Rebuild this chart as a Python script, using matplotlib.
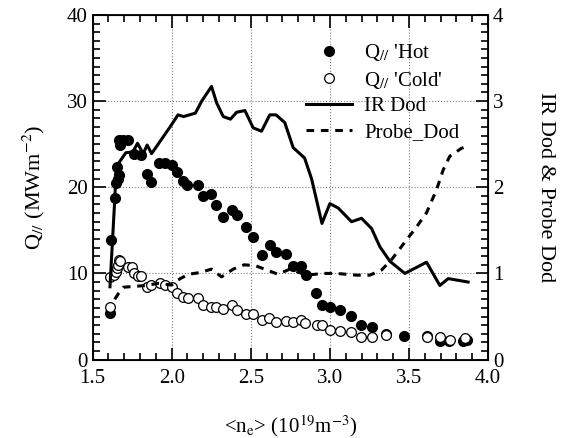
import numpy
import matplotlib
matplotlib.use("Agg")
import matplotlib.pyplot as plt
from matplotlib.ticker import MultipleLocator, FormatStrFormatter

plt.rcParams['font.family'] = ['Liberation Serif', 'DejaVu Serif']
plt.rcParams['mathtext.fontset'] = 'stix'

# Q// 'Hot' (filled circles), left axis
hot_ne = [1.610, 1.614, 1.641, 1.647, 1.655, 1.662, 1.668, 1.664, 1.675, 1.694,
          1.727, 1.759, 1.807, 1.843, 1.868, 1.919, 1.957, 1.999, 2.031, 2.073,
          2.098, 2.164, 2.200, 2.250, 2.280, 2.326, 2.379, 2.415, 2.473, 2.515,
          2.568, 2.620, 2.658, 2.724, 2.768, 2.815, 2.848, 2.911, 2.948, 3.000,
          3.063, 3.131, 3.194, 3.264, 3.354, 3.470, 3.611, 3.695, 3.754, 3.843,
          3.864]
hot_q = [5.4, 13.9, 18.7, 20.5, 22.4, 21.0, 21.4, 25.5, 24.9, 25.5,
         25.5, 23.9, 23.75, 21.5, 20.6, 22.8, 22.8, 22.6, 21.8, 20.7,
         20.3, 20.3, 19.0, 19.2, 17.9, 16.5, 17.4, 16.8, 15.4, 14.2,
         12.1, 13.3, 12.5, 12.3, 10.9, 10.9, 9.8, 7.7, 6.3, 6.1,
         5.75, 5.05, 4.0, 3.8, 3.0, 2.76, 2.76, 2.2, 2.2, 2.2,
         2.3]

# Q// 'Cold' (open circles), left axis
cold_ne = [1.611, 1.611, 1.633, 1.647, 1.654, 1.660, 1.668, 1.675, 1.723, 1.748,
           1.759, 1.786, 1.807, 1.843, 1.870, 1.927, 1.959, 2.001, 2.033, 2.069,
           2.102, 2.164, 2.200, 2.248, 2.278, 2.326, 2.379, 2.416, 2.469, 2.515,
           2.568, 2.615, 2.657, 2.720, 2.766, 2.816, 2.842, 2.916, 2.948, 3.000,
           3.063, 3.131, 3.194, 3.264, 3.354, 3.611, 3.695, 3.758, 3.854]
cold_q = [6.1, 9.6, 9.8, 10.2, 10.6, 11.0, 11.5, 11.4, 10.7, 10.7,
          10.1, 9.7, 9.7, 8.45, 8.7, 8.85, 8.65, 8.45, 7.7, 7.3,
          7.1, 7.2, 6.3, 6.1, 6.1, 5.9, 6.3, 5.8, 5.3, 5.3,
          4.6, 4.8, 4.4, 4.5, 4.4, 4.6, 4.2, 4.0, 4.0, 3.4,
          3.35, 3.2, 2.6, 2.6, 2.85, 2.65, 2.65, 2.3, 2.45]

# IR Dod (solid), right axis
ir_ne = [1.610, 1.640, 1.650, 1.710, 1.755, 1.784, 1.820, 1.845, 1.873, 1.990,
         2.040, 2.075, 2.150, 2.190, 2.252, 2.284, 2.326, 2.372, 2.410, 2.463,
         2.515, 2.568, 2.620, 2.660, 2.715, 2.768, 2.840, 2.884, 2.916, 2.950,
         3.000, 3.052, 3.137, 3.200, 3.264, 3.316, 3.380, 3.474, 3.611, 3.695,
         3.748, 3.874]
ir_dod = [0.845, 1.85, 2.24, 2.40, 2.41, 2.51, 2.39, 2.49, 2.39, 2.70,
          2.84, 2.82, 2.86, 3.00, 3.17, 2.98, 2.82, 2.79, 2.87, 2.89,
          2.69, 2.65, 2.84, 2.84, 2.75, 2.46, 2.34, 2.10, 1.85, 1.58,
          1.81, 1.76, 1.60, 1.64, 1.52, 1.31, 1.14, 1.00, 1.13, 0.86,
          0.94, 0.90]

# Probe_Dod (dashed), right axis
pr_ne = [1.640, 1.665, 1.695, 1.770, 1.833, 1.917, 2.000, 2.054, 2.107, 2.178,
         2.252, 2.315, 2.389, 2.458, 2.530, 2.600, 2.673, 2.747, 2.853, 2.958,
         3.040, 3.169, 3.253, 3.327, 3.390, 3.485, 3.548, 3.610, 3.674, 3.716,
         3.758, 3.830, 3.855]
pr_dod = [0.70, 0.77, 0.84, 0.85, 0.86, 0.885, 0.865, 0.94, 0.99, 1.01,
          1.05, 0.96, 1.05, 1.10, 1.09, 1.04, 0.99, 1.05, 0.98, 1.00,
          1.00, 0.98, 0.98, 1.04, 1.16, 1.39, 1.54, 1.70, 1.97, 2.20,
          2.36, 2.45, 2.47]

fig = plt.figure(figsize=(5.61, 4.38), dpi=100)
ax = fig.add_axes([0.165, 0.179, 0.705, 0.787])
ax2 = ax.twinx()

h1, = ax.plot(hot_ne, hot_q, 'o', ls='none', ms=7, mfc='black', mec='black', zorder=3)
h2, = ax.plot(cold_ne, cold_q, 'o', ls='none', ms=7, mfc='white', mec='black', mew=0.9, zorder=3)
h3, = ax2.plot(ir_ne, ir_dod, '-', color='black', lw=2.2)
h4, = ax2.plot(pr_ne, pr_dod, '--', color='black', lw=2.2, dashes=(2.5, 2.2))

# Axes limits and ticks
ax.set_xlim(1.5, 4.0)
ax.set_ylim(0, 40)
ax2.set_ylim(0, 4)
ax.xaxis.set_major_locator(MultipleLocator(0.5))
ax.xaxis.set_minor_locator(MultipleLocator(0.1))
ax.xaxis.set_major_formatter(FormatStrFormatter('%.1f'))
ax.yaxis.set_major_locator(MultipleLocator(10))
ax.yaxis.set_minor_locator(MultipleLocator(1))
ax2.yaxis.set_major_locator(MultipleLocator(1))
ax2.yaxis.set_minor_locator(MultipleLocator(0.1))

ax.tick_params(axis='both', which='both', direction='in', top=True, right=False,
               labelsize=15, width=1.2)
ax.tick_params(which='major', length=9)
ax.tick_params(which='minor', length=5)
ax.tick_params(axis='x', pad=7)
ax2.tick_params(axis='y', which='both', direction='in', labelsize=15, width=1.2)
ax2.tick_params(which='major', length=9)
ax2.tick_params(which='minor', length=5)

ax.grid(True, which='major', ls=':', lw=0.8, color='gray')
for sp in ax.spines.values():
    sp.set_linewidth(1.3)

ax.set_ylabel(r"Q$_{//}$ (MWm$^{-2}$)", fontsize=16, labelpad=14)
ax2.set_ylabel("IR Dod & Probe Dod", fontsize=16, rotation=270, labelpad=37)
ax.set_xlabel(r"<n$_{\rm e}$> (10$^{19}$m$^{-3}$)", fontsize=15, labelpad=18)

ax.legend([h1, h2, h3, h4],
          [r"Q$_{//}$ 'Hot", r"Q$_{//}$ 'Cold'", "IR Dod", "Probe_Dod"],
          frameon=False, fontsize=15, loc='upper right',
          bbox_to_anchor=(0.975, 0.975), handlelength=2.2, labelspacing=0.3,
          handletextpad=0.6)

plt.savefig("out.png", dpi=100)
